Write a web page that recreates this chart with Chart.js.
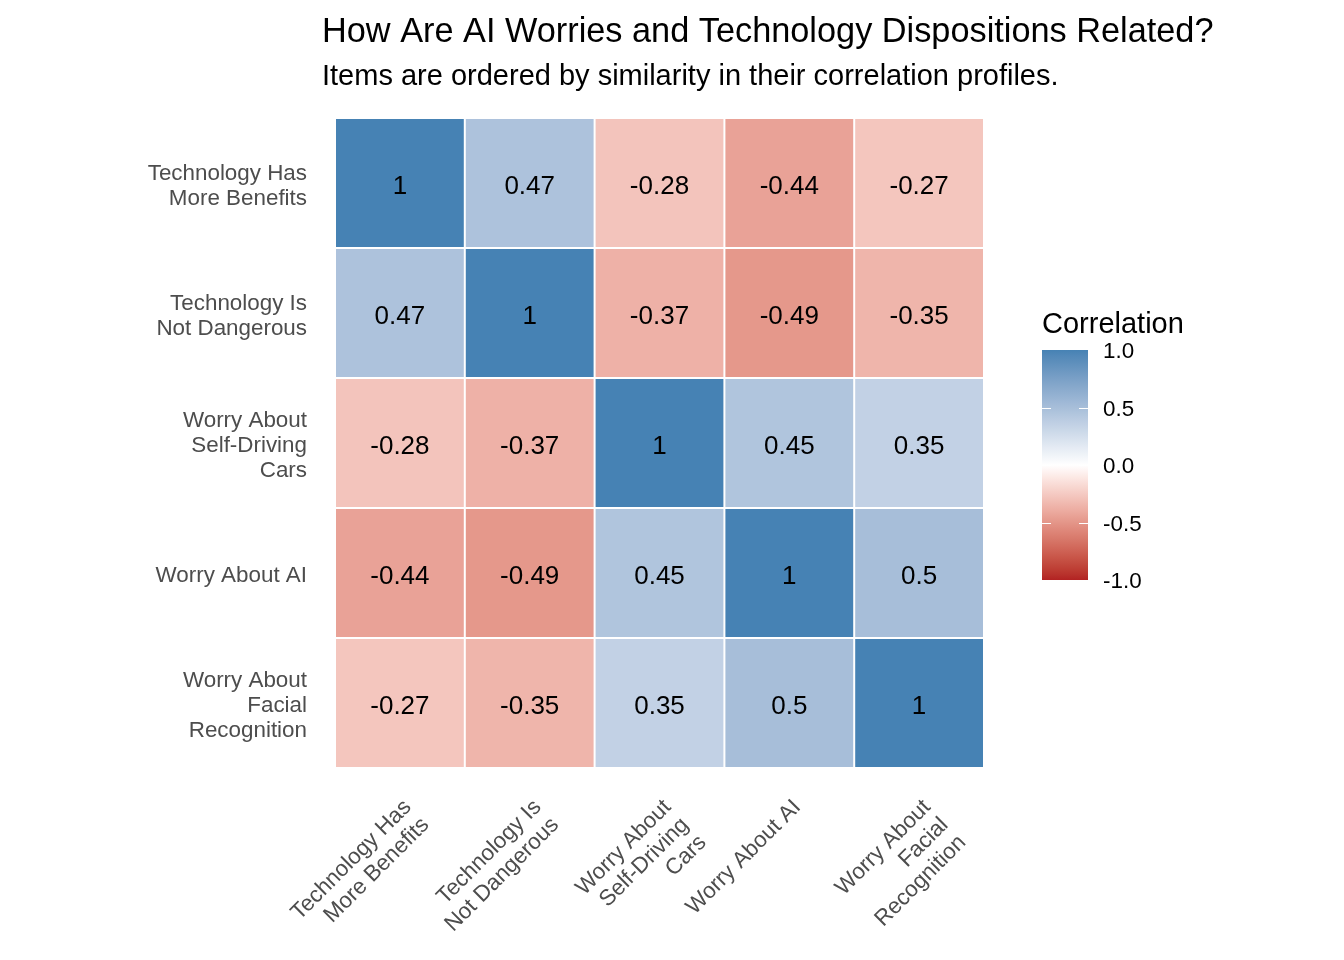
<!DOCTYPE html>
<html>
<head>
<meta charset="utf-8">
<script src="https://cdn.jsdelivr.net/npm/chart.js@4.4.1/dist/chart.umd.min.js"></script>
<style>
  html, body { margin: 0; padding: 0; background: #fff; }
</style>
</head>
<body>
<canvas id="corrChart" width="1344" height="960"></canvas>
<script>
// items, in the order used for both rows (top to bottom) and columns (left to right)
const itemLabels = [
  ["Technology Has", "More Benefits"],
  ["Technology Is", "Not Dangerous"],
  ["Worry About", "Self-Driving", "Cars"],
  ["Worry About AI"],
  ["Worry About", "Facial", "Recognition"]
];

// correlation rows
const techBenefits     = [1, 0.47, -0.28, -0.44, -0.27];
const techNotDangerous = [0.47, 1, -0.37, -0.49, -0.35];
const worryCars        = [-0.28, -0.37, 1, 0.45, 0.35];
const worryAI          = [-0.44, -0.49, 0.45, 1, 0.5];
const worryFacial      = [-0.27, -0.35, 0.35, 0.5, 1];
const rowsTopDown = [techBenefits, techNotDangerous, worryCars, worryAI, worryFacial];

const legendBreaks = [1, 0.5, 0, -0.5, -1];

const titleText = 'How Are AI Worries and Technology Dispositions Related?';
const subtitleText = 'Items are ordered by similarity in their correlation profiles.';

const FONT = '"Liberation Sans", Arial, Helvetica, sans-serif';
const AXIS_FONT = { family: FONT, size: 22.4, lineHeight: 1.116 };
const LOW = [178, 34, 34], MID = [255, 255, 255], HIGH = [70, 130, 180];

// colour ramp in CIELAB, like a ggplot gradient2
function toLin(c) { c /= 255; return c <= 0.04045 ? c / 12.92 : Math.pow((c + 0.055) / 1.055, 2.4); }
function toSrgb(c) {
  c = c <= 0.0031308 ? 12.92 * c : 1.055 * Math.pow(c, 1 / 2.4) - 0.055;
  return Math.round(Math.max(0, Math.min(1, c)) * 255);
}
function toLab(rgb) {
  const [r, g, b] = rgb.map(toLin);
  const X = (0.4124 * r + 0.3576 * g + 0.1805 * b) / 0.95047;
  const Y = 0.2126 * r + 0.7152 * g + 0.0722 * b;
  const Z = (0.0193 * r + 0.1192 * g + 0.9505 * b) / 1.08883;
  const f = t => t > 0.008856 ? Math.cbrt(t) : 7.787 * t + 16 / 116;
  const fx = f(X), fy = f(Y), fz = f(Z);
  return [116 * fy - 16, 500 * (fx - fy), 200 * (fy - fz)];
}
function fromLab([L, a, bb]) {
  const fy = (L + 16) / 116, fx = fy + a / 500, fz = fy - bb / 200;
  const fi = t => t * t * t > 0.008856 ? t * t * t : (t - 16 / 116) / 7.787;
  const X = fi(fx) * 0.95047, Y = fi(fy), Z = fi(fz) * 1.08883;
  const r = 3.2406 * X - 1.5372 * Y - 0.4986 * Z;
  const g = -0.9689 * X + 1.8758 * Y + 0.0415 * Z;
  const b = 0.0557 * X - 0.2040 * Y + 1.0570 * Z;
  return [toSrgb(r), toSrgb(g), toSrgb(b)];
}
const labMid = toLab(MID), labLow = toLab(LOW), labHigh = toLab(HIGH);
function corrColour(v) {
  const end = v < 0 ? labLow : labHigh;
  const t = Math.min(1, Math.abs(v));
  const lab = labMid.map((c, i) => c + (end[i] - c) * t);
  return 'rgb(' + fromLab(lab).join(',') + ')';
}

const nItems = itemLabels.length;

// one stacked dataset per row, bottom row first
const datasets = rowsTopDown.slice().reverse().map((vals, k) => ({
  label: 'row' + k,
  data: vals.map(() => 1),
  backgroundColor: vals.map(corrColour),
  borderColor: '#ffffff',
  borderWidth: 1,
  borderSkipped: false,
  inflateAmount: 0,
  barPercentage: 1,
  categoryPercentage: 1
}));

const headings = {
  id: 'headings',
  afterDraw(chart) {
    const { ctx, chartArea } = chart;
    const x = chartArea.left - 13;
    ctx.save();
    ctx.fillStyle = '#000';
    ctx.textAlign = 'left';
    ctx.textBaseline = 'alphabetic';
    ctx.font = '34.3px ' + FONT;
    ctx.fillText(titleText, x, 42);
    ctx.font = '29px ' + FONT;
    ctx.fillText(subtitleText, x, 84.5);
    ctx.restore();
  }
};

const cellLabels = {
  id: 'cellLabels',
  afterDatasetsDraw(chart) {
    const { ctx, scales: { x, y } } = chart;
    ctx.save();
    ctx.font = '26px ' + FONT;
    ctx.fillStyle = '#000';
    ctx.textAlign = 'center';
    ctx.textBaseline = 'alphabetic';
    rowsTopDown.forEach((vals, r) => {
      const k = nItems - 1 - r;
      vals.forEach((v, c) => {
        ctx.fillText(String(v), x.getPixelForValue(c), y.getPixelForValue(k + 0.5) + 11);
      });
    });
    ctx.restore();
  }
};

const colourBar = {
  id: 'colourBar',
  afterDraw(chart) {
    const { ctx, chartArea } = chart;
    const left = chartArea.right + 58, width = 46, height = 230;
    const top = (chartArea.top + chartArea.bottom) / 2 - 93;
    const grad = ctx.createLinearGradient(0, top + height, 0, top);
    for (let i = 0; i <= 40; i++) grad.addColorStop(i / 40, corrColour(-1 + i / 20));
    ctx.save();
    ctx.fillStyle = grad;
    ctx.fillRect(left, top, width, height);
    ctx.strokeStyle = '#ffffff';
    ctx.lineWidth = 1;
    ctx.font = '22.4px ' + FONT;
    ctx.fillStyle = '#000';
    ctx.textAlign = 'left';
    ctx.textBaseline = 'middle';
    legendBreaks.forEach(v => {
      const py = Math.round(top + height * (1 - v) / 2) + 0.5;
      if (v < 1) {
        ctx.beginPath();
        ctx.moveTo(left, py); ctx.lineTo(left + 9, py);
        ctx.moveTo(left + width - 9, py); ctx.lineTo(left + width, py);
        ctx.stroke();
      }
      ctx.fillText(v.toFixed(1), left + width + 15, py + 1);
    });
    ctx.textBaseline = 'alphabetic';
    ctx.font = '29px ' + FONT;
    ctx.fillText('Correlation', left, top - 17);
    ctx.restore();
  }
};

new Chart(document.getElementById('corrChart'), {
  type: 'bar',
  data: { labels: itemLabels, datasets: datasets },
  plugins: [cellLabels, colourBar, headings],
  options: {
    responsive: false,
    animation: false,
    layout: { padding: { left: 0, right: 0, top: 118, bottom: 0 } },
    plugins: {
      legend: { display: false },
      tooltip: { enabled: false }
    },
    scales: {
      x: {
        stacked: true,
        grid: { display: false },
        border: { display: false },
        ticks: {
          color: '#4D4D4D',
          font: AXIS_FONT,
          minRotation: 45,
          maxRotation: 45,
          autoSkip: false,
          padding: 19,
          labelOffset: 8
        },
        afterFit(scale) { scale.height = 192; }
      },
      y: {
        stacked: true,
        min: 0,
        max: nItems,
        grid: { display: false },
        border: { display: false },
        afterBuildTicks(scale) {
          scale.ticks = itemLabels.map((_, i) => ({ value: i + 0.5 }));
        },
        ticks: {
          color: '#4D4D4D',
          font: AXIS_FONT,
          padding: 20,
          labelOffset: 3,
          callback: v => itemLabels[nItems - 1 - Math.floor(v)]
        },
        afterFit(scale) { scale.width = 335; }
      },
      legendSpace: {
        type: 'linear',
        position: 'right',
        display: true,
        grid: { display: false },
        border: { display: false },
        ticks: { display: false },
        afterFit(scale) { scale.width = 360; }
      }
    }
  }
});
</script>
</body>
</html>
